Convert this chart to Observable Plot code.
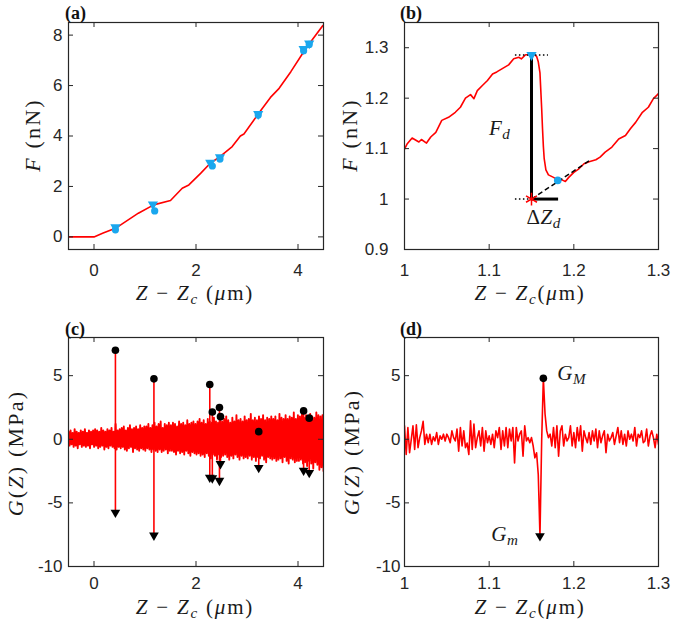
<!DOCTYPE html>
<html><head><meta charset="utf-8">
<script src="https://cdn.jsdelivr.net/npm/d3@7"></script>
<script src="https://cdn.jsdelivr.net/npm/@observablehq/plot@0.6"></script>
<style>
body{margin:0;background:#fff;}
#fig{position:relative;width:675px;height:622px;overflow:hidden;background:#fff;}
#fig svg{position:absolute;overflow:visible;}
.lbl{position:absolute;font-family:"Liberation Serif","DejaVu Serif",serif;color:#1a1a1a;white-space:nowrap;line-height:1;font-size:21px;letter-spacing:1.8px;}
.lbl sub{font-size:0.72em;vertical-align:-0.28em;line-height:0;}
.op{margin:0 7px;}
.ann{font-size:21px;letter-spacing:0.5px;}
.cx{transform:translate(-50%,-50%);}
.ry{transform:translate(-50%,-50%) rotate(-90deg);font-size:22px;letter-spacing:2.2px;}
.tag{position:absolute;font-family:"Liberation Serif","DejaVu Serif",serif;font-weight:bold;font-size:18px;line-height:1;color:#111;}
</style></head><body><div id="fig"></div>
<script>
// ---------- data ----------
// (a) force curve
const aZ = [-0.5, 0.0, 0.18, 0.42, 0.87, 1.17, 1.5, 1.73, 1.86, 2.09, 2.28, 2.47, 2.71, 2.87, 2.94, 3.23, 3.46, 3.63, 3.86, 4.09, 4.25, 4.48, 4.5];
const aF = [0, 0, 0.15, 0.34, 0.94, 1.27, 1.44, 1.93, 2.06, 2.52, 2.92, 3.18, 3.58, 4.0, 4.08, 4.9, 5.53, 5.89, 6.55, 7.27, 7.74, 8.36, 8.4];
const aTriZ = [0.42, 1.155, 2.28, 2.47, 3.22, 4.11, 4.22];
const aTriF = [0.38, 1.29, 2.94, 3.16, 4.87, 7.45, 7.67];
const aCircZ = [0.42, 1.19, 2.32, 2.47, 3.22, 4.11, 4.22];
const aCircF = [0.28, 1.03, 2.81, 3.09, 4.83, 7.38, 7.63];

// (b) zoom on one drop
const bZ = [1.000,1.003,1.009,1.012,1.017,1.020,1.026,1.031,1.037,1.044,1.052,1.060,1.066,1.072,1.078,1.082,1.086,1.092,1.098,1.104,1.109,1.115,1.123,1.129,1.135,1.138,1.143,1.149,1.153,1.156,1.158,1.160,1.161,1.162,1.163,1.164,1.165,1.167,1.170,1.176,1.181,1.186,1.190,1.194,1.200,1.206,1.212,1.218,1.226,1.231,1.237,1.245,1.253,1.261,1.267,1.273,1.281,1.288,1.294,1.300];
const bF = [1.099,1.109,1.121,1.118,1.113,1.118,1.111,1.123,1.132,1.156,1.162,1.172,1.182,1.200,1.207,1.199,1.215,1.225,1.235,1.248,1.252,1.258,1.266,1.278,1.281,1.278,1.286,1.286,1.287,1.283,1.272,1.250,1.215,1.180,1.140,1.105,1.080,1.058,1.048,1.043,1.038,1.038,1.035,1.043,1.053,1.060,1.070,1.074,1.078,1.083,1.093,1.103,1.119,1.126,1.140,1.152,1.172,1.182,1.199,1.209];
const bTop = {z: 1.15, f: 1.2855};     // cyan triangle, start of the drop
const bLow = {z: 1.181, f: 1.037};     // cyan circle, end of the drop
const bStar = {z: 1.15, f: 1.0};       // red asterisk
const bDotTop = [1.131, 1.170];
const bDotLow = [1.131, 1.150];
const bDZend = 1.182;
const bDashEnd = {z: 1.22, f: 1.078};

// (c) G(Z) over the whole approach: dense core of the noise band, noise samples and events
const cZ0 = -0.5, cZ1 = 4.5;
const cCoreZ  = [-0.5, 0.5, 1.5, 2.5, 3.5, 4.5];
const cCoreLo = [-0.4, -0.5, -0.7, -0.8, -0.9, -1.0];
const cCoreHi = [0.45, 0.55, 0.75, 0.9, 1.0, 1.1];
const cNoise = [
0.6,-0.5,0.7,-0.4,0.5,-0.6,0.8,-0.5,0.6,-0.7,0.5,-0.4,0.7,-0.6,0.6,-0.5,0.8,-0.6,0.5,-0.5,0.7,-0.7,0.6,-0.4,0.7,
-0.6,0.8,-0.5,0.7,-0.7,0.6,-0.6,0.9,-0.5,0.7,-0.8,0.6,-0.6,0.8,-0.7,0.7,-0.5,0.9,-0.6,0.6,-0.7,1.2,-0.8,0.7,-0.6,
0.8,-0.7,0.9,-0.6,1.0,-0.8,0.7,-0.9,0.9,-0.7,1.1,-0.6,0.8,-1.0,0.9,-0.7,1.0,-0.8,0.8,-0.9,1.1,-0.7,0.9,-0.8,1.0,
-0.9,1.0,-0.7,1.2,-0.8,0.9,-1.0,1.1,-0.8,1.3,-0.9,1.0,-1.0,1.2,-0.8,1.4,-1.0,0.9,-0.9,1.2,-0.8,1.1,-1.1,1.3,-0.9,
1.1,-0.9,1.3,-1.0,1.2,-1.2,1.0,-0.9,1.4,-1.1,1.2,-1.0,1.3,-1.2,1.1,-0.9,1.5,-1.1,1.2,-1.3,1.3,-1.0,1.4,-1.1,1.2,
-1.2,1.4,-1.1,1.6,-1.3,1.3,-1.2,1.5,-1.4,1.2,-1.1,1.6,-1.3,1.4,-1.5,1.3,-1.2,1.7,-1.3,1.4,-1.6,1.3,-1.2,1.5,-1.4,
1.4,-1.3,1.6,-1.2,1.8,-1.4,1.5,-1.6,1.3,-1.3,1.7,-1.5,1.4,-1.2,1.9,-1.4,1.5,-1.6,1.6,-1.3,1.4,-1.5,1.8,-1.4,1.5,
-1.5,1.6,-1.3,2.0,-1.6,1.5,-1.4,1.7,-1.7,1.5,-1.4,1.8,-1.5,1.6,-1.3,1.9,-1.6,1.5,-1.8,1.7,-1.4,1.6,-1.5,1.8,-1.6,
1.6,-1.5,1.8,-1.7,1.5,-1.6,2.0,-1.5,1.7,-1.8,1.6,-1.4,1.9,-1.7,1.6,-1.9,1.8,-1.5,1.7,-1.6,2.1,-1.8,1.6,-1.7,1.9,
-1.7,1.8,-1.6,2.0,-1.9,1.7,-1.8,1.9,-2.1,1.6,-1.7,2.0,-1.9,1.8,-2.3,1.7,-1.8,2.1,-2.0,1.9,-2.4,1.8,-2.2,1.9,-2.5];
const cEvZ   = [0.42, 1.175, 2.27, 2.32, 2.46, 2.48, 3.23, 4.11, 4.22];
const cEvMax = [7.0, 4.75, 4.3, 2.15, 2.5, 1.78, 0.6, 2.23, 1.66];
const cEvMin = [-5.75, -7.55, -3.0, -3.05, -3.25, -1.93, -2.24, -2.45, -2.63];

// (d) G(Z) zoom, sampled every 0.002 um from 1.000
const dZ0 = 1.0, dStep = 0.002;
const dG = [1.06,-1.20,0.93,-1.06,0,1.06,-0.80,1.14,-0.66,0.13,0.66,1.41,-0.40,0.40,-0.27,0.40,-0.40,0.19,-0.13,0.53,
-0.40,0.27,0,0.40,-0.13,0.40,0.13,-0.27,0.66,0.13,-0.13,0.80,-0.93,0.93,-0.53,0.66,-0.66,-0.30,-1.20,1.46,
-0.80,1.20,-0.66,0.13,0.66,-0.53,0.93,-0.93,0.66,-0.27,0.27,-0.40,0.40,-0.66,0.66,0.13,0.93,-0.80,0.66,-0.53,
0.93,-0.66,0.80,-0.13,0.93,-1.86,0.93,-0.13,0.40,0.66,-1.33,1.06,-0.13,0.13,-0.27,0.13,-0.53,-1.46,-1.06,-2.79,
-7.6,-0.13,4.79,1.99,0.66,0.13,0.40,-0.53,0.93,-0.66,1.06,-1.33,0.66,1.06,-0.53,0.40,-0.13,0.13,1.06,-0.53,
0.53,-0.66,0.93,-0.13,1.06,-0.93,0.66,0.13,-0.27,0.53,-0.40,0.66,-0.13,0.80,-0.66,0.66,-0.27,0.27,0.66,-1.06,
0.40,-0.13,0.13,0.53,-0.40,0.27,0.93,-0.27,0.66,-0.40,0.40,-0.53,0.66,0,0.40,-0.13,0.93,-0.53,0.40,0.13,
0.66,-0.27,-0.13,0.80,-0.53,0.27,0.66,0.13,-0.66,0.40,-0.40];
const dMaxIdx = 82, dMinIdx = 80;

// ticks
const xTicksAC = [0, 2, 4];
const yTicksA = [0, 2, 4, 6, 8];
const xTicksBD = [1, 1.1, 1.2, 1.3];
const yTicksB = [0.9, 1, 1.1, 1.2, 1.3];
const yTicksCD = [-10, -5, 0, 5];

// ---------- helpers ----------
const RED = "#ff0000", CYAN = "#1aa7ee", INK = "#262626";
const sqrt3 = Math.sqrt(3);
const triDown = {draw(ctx, size){ const y = -Math.sqrt(size / (sqrt3 * 3)); ctx.moveTo(0, -2 * y); ctx.lineTo(-sqrt3 * y, y); ctx.lineTo(sqrt3 * y, y); ctx.closePath(); }};
const fig = document.getElementById("fig");

function panel({left, top, width, height, mL, mR, mT, mB, xDomain, yDomain, xTicks, yTicks, xPad, yPad, marks}) {
  const iw = width - mL - mR, ih = height - mT - mB, tl = 5;
  const svg = Plot.plot({
    width, height, marginLeft: mL, marginRight: mR, marginTop: mT, marginBottom: mB,
    x: {domain: xDomain}, y: {domain: yDomain},
    style: {fontFamily: "'Liberation Sans', Arial, sans-serif", fontSize: "17px", color: INK, background: "transparent"},
    marks: [
      ...marks,
      Plot.ruleX(xTicks, {x: d => d, insetTop: ih - tl, stroke: INK}),
      Plot.ruleX(xTicks, {x: d => d, insetBottom: ih - tl, stroke: INK}),
      Plot.ruleY(yTicks, {y: d => d, insetRight: iw - tl, stroke: INK}),
      Plot.ruleY(yTicks, {y: d => d, insetLeft: iw - tl, stroke: INK}),
      Plot.axisX(xTicks, {tickSize: 0, tickPadding: xPad, tickFormat: d => String(d), fill: INK, label: null}),
      Plot.axisY(yTicks, {tickSize: 0, tickPadding: yPad, tickFormat: d => String(d), fill: INK, label: null}),
      Plot.frame({stroke: INK, strokeWidth: 1.2})
    ]
  });
  svg.style.left = left + "px"; svg.style.top = top + "px";
  fig.appendChild(svg);
  return svg;
}
function label(html, x, y, cls) {
  const d = document.createElement("div");
  d.className = cls; d.innerHTML = html;
  d.style.left = x + "px"; d.style.top = y + "px";
  fig.appendChild(d); return d;
}

// ---------- panel (a) ----------
const aLine = aZ.map((z, i) => ({z, f: aF[i]}));
const aTri = aTriZ.map((z, i) => ({z, f: aTriF[i]}));
const aCirc = aCircZ.map((z, i) => ({z, f: aCircF[i]}));
panel({left: 0, top: 0, width: 337, height: 310, mL: 68, mR: 14, mT: 22, mB: 61,
  xDomain: [-0.5, 4.5], yDomain: [-0.5, 8.5], xTicks: xTicksAC, yTicks: yTicksA, xPad: 14, yPad: 6,
  marks: [
    Plot.line(aLine, {x: "z", y: "f", stroke: RED, strokeWidth: 1.6, clip: true}),
    Plot.dot(aTri, {x: "z", y: "f", symbol: triDown, r: 3.8, fill: CYAN}),
    Plot.dot(aCirc, {x: "z", y: "f", r: 3.6, fill: CYAN})
  ]});

// ---------- panel (b) ----------
const bLine = bZ.map((z, i) => ({z, f: bF[i]}));
const svgB = panel({left: 337, top: 0, width: 338, height: 310, mL: 67, mR: 17, mT: 22, mB: 61,
  xDomain: [1, 1.3], yDomain: [0.9, 1.35], xTicks: xTicksBD, yTicks: yTicksB, xPad: 14, yPad: 16,
  marks: [
    Plot.line(bLine, {x: "z", y: "f", stroke: RED, strokeWidth: 1.6, clip: true}),
    Plot.ruleY([bDotTop], {x1: d => d[0], x2: d => d[1], y: bTop.f, stroke: "#000", strokeWidth: 1.5, strokeDasharray: "1.5 2.5"}),
    Plot.ruleY([bDotLow], {x1: d => d[0], x2: d => d[1], y: bStar.f, stroke: "#000", strokeWidth: 1.5, strokeDasharray: "1.5 2.5"}),
    Plot.link([0], {x1: bStar.z, y1: bStar.f, x2: bDashEnd.z, y2: bDashEnd.f, stroke: "#000", strokeWidth: 1.5, strokeDasharray: "5 3"}),
    Plot.ruleX([bStar.z], {y1: bStar.f, y2: bTop.f, stroke: "#000", strokeWidth: 3}),
    Plot.ruleY([bStar.f], {x1: bStar.z, x2: bDZend, stroke: "#000", strokeWidth: 3}),
    Plot.dot([bTop], {x: "z", y: "f", symbol: triDown, r: 3.8, fill: CYAN}),
    Plot.dot([bLow], {x: "z", y: "f", r: 3.8, fill: CYAN}),
    Plot.dot([bStar], {x: "z", y: "f", symbol: "asterisk", r: 6, stroke: RED, strokeWidth: 1.5, fill: "none"})
  ]});

// ---------- panel (c) ----------
const cLine = cNoise.map((g, i) => ({z: cZ0 + i * (cZ1 - cZ0) / (cNoise.length - 1), g}));
const cCore = cCoreZ.map((z, i) => ({z, lo: cCoreLo[i], hi: cCoreHi[i]}));
const cEv = cEvZ.map((z, i) => ({z, hi: cEvMax[i], lo: cEvMin[i]}));
panel({left: 0, top: 310, width: 337, height: 312, mL: 68, mR: 14, mT: 27, mB: 56,
  xDomain: [-0.5, 4.5], yDomain: [-10, 8], xTicks: xTicksAC, yTicks: yTicksCD, xPad: 10, yPad: 6,
  marks: [
    Plot.ruleX(cEv, {x: "z", y1: "lo", y2: "hi", stroke: RED, strokeWidth: 1.6}),
    Plot.areaY(cCore, {x: "z", y1: "lo", y2: "hi", fill: RED}),
    Plot.line(cLine, {x: "z", y: "g", stroke: RED, strokeWidth: 1.9, clip: true}),
    Plot.dot(cEv, {x: "z", y: "hi", r: 3.8, fill: "#000"}),
    Plot.dot(cEv, {x: "z", y: "lo", symbol: triDown, r: 3.6, fill: "#000"})
  ]});

// ---------- panel (d) ----------
const dLine = dG.map((g, i) => ({z: dZ0 + i * dStep, g}));
const svgD = panel({left: 337, top: 310, width: 338, height: 312, mL: 67, mR: 17, mT: 27, mB: 56,
  xDomain: [1, 1.3], yDomain: [-10, 8], xTicks: xTicksBD, yTicks: yTicksCD, xPad: 10, yPad: 4,
  marks: [
    Plot.line(dLine, {x: "z", y: "g", stroke: RED, strokeWidth: 1.6, clip: true}),
    Plot.dot([dLine[dMaxIdx]], {x: "z", y: "g", r: 3.8, fill: "#000"}),
    Plot.dot([dLine[dMinIdx]], {x: "z", y: "g", symbol: triDown, r: 3.6, fill: "#000"})
  ]});

// ---------- texts ----------
const xlab1 = '<i>Z</i><span class="op">&minus;</span><i>Z</i><sub><i>c</i></sub>&nbsp;(<i>&mu;</i>m)';
const xlab2 = '<i>Z</i><span class="op">&minus;</span><i>Z</i><sub><i>c</i></sub>(<i>&mu;</i>m)';
label(xlab1, 195, 293, "lbl cx");
label(xlab2, 530, 293, "lbl cx");
label(xlab1, 195, 607, "lbl cx");
label(xlab2, 530, 607, "lbl cx");
label('<i>F</i>&nbsp;(nN)', 33, 135, "lbl ry");
label('<i>F</i>&nbsp;(nN)', 350, 135, "lbl ry");
label('<i>G</i>(<i>Z</i>)&nbsp;(MPa)', 16, 453, "lbl ry");
label('<i>G</i>(<i>Z</i>)&nbsp;(MPa)', 352, 452, "lbl ry");
label('(a)', 65, 4, "tag");
label('(b)', 400, 4, "tag");
label('(c)', 65, 320, "tag");
label('(d)', 400, 320, "tag");

// annotations placed through the panels' scales
const bx = svgB.scale("x"), by = svgB.scale("y");
const dx = svgD.scale("x"), dy = svgD.scale("y");
const annB = [{html: '<i>F</i><sub><i>d</i></sub>', z: 1.113, v: 1.139}, {html: '&Delta;<i>Z</i><sub><i>d</i></sub>', z: 1.165, v: 0.963}];
const annD = [{html: '<i>G</i><sub><i>M</i></sub>', z: 1.198, v: 5.2}, {html: '<i>G</i><sub><i>m</i></sub>', z: 1.119, v: -7.45}];
annB.forEach(a => label(a.html, 337 + bx.apply(a.z), by.apply(a.v), "lbl ann cx"));
annD.forEach(a => label(a.html, 337 + dx.apply(a.z), 310 + dy.apply(a.v), "lbl ann cx"));
</script></body></html>
